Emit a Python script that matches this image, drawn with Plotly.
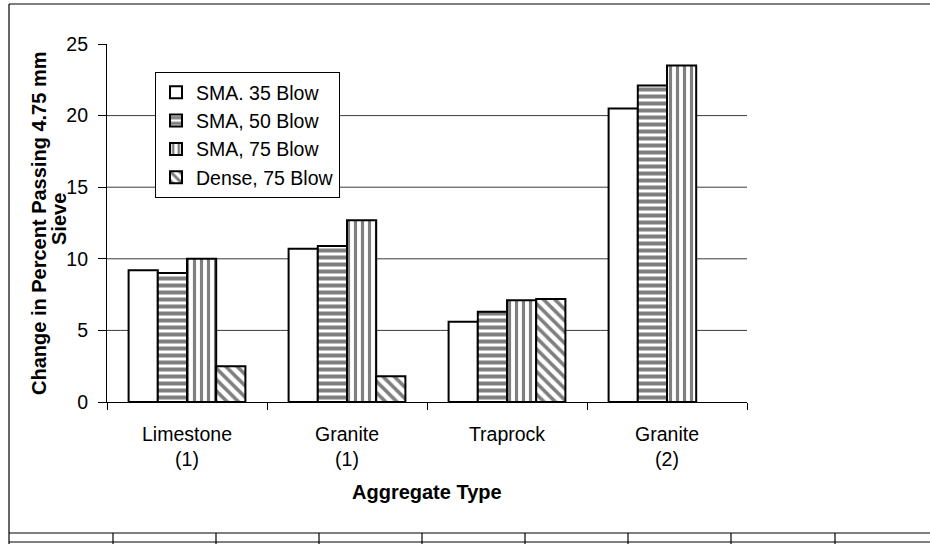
import plotly.graph_objects as go

# ---------------- data ----------------
categories = ["Limestone<br>(1)", "Granite<br>(1)", "Traprock", "Granite<br>(2)"]
series_names = ["SMA. 35 Blow", "SMA, 50 Blow", "SMA, 75 Blow", "Dense, 75 Blow"]
sma35 = [9.2, 10.7, 5.6, 20.5]
sma50 = [9.0, 10.9, 6.3, 22.1]
sma75 = [10.0, 12.7, 7.1, 23.5]
dense75 = [2.5, 1.8, 7.2, None]
y_tick_values = [0, 5, 10, 15, 20, 25]
grid_values = [5, 10, 15, 20]
y_title_line1 = "Change in Percent Passing 4.75 mm"
y_title_line2 = "Sieve"
x_title = "Aggregate Type"

# ---------------- layout geometry ----------------
W, H = 930, 544
L, R, T, B = 107, 747, 44, 402
FONT = "Liberation Sans, Arial, sans-serif"


def px_x(px):
    return (px - L) / (R - L)


def px_y(py):
    return (B - py) / (B - T)


patterns = [
    dict(shape=""),
    dict(shape="-", size=7, solidity=0.57, fgcolor="black", bgcolor="white"),
    dict(shape="|", size=7, solidity=0.45, fgcolor="black", bgcolor="white"),
    dict(shape="\\", size=8, solidity=0.45, fgcolor="black", bgcolor="white"),
]

fig = go.Figure()
for name, vals, pat in zip(series_names, [sma35, sma50, sma75, dense75], patterns):
    fig.add_trace(go.Bar(
        name=name, x=categories, y=vals,
        marker=dict(color="white", line=dict(color="black", width=2), pattern=pat),
    ))

shapes = []
# horizontal gridlines
for g in grid_values:
    shapes.append(dict(type="line", xref="paper", yref="y", x0=0, x1=1, y0=g, y1=g,
                       line=dict(color="#3a3a3a", width=1), layer="below"))

# outer frame (scanned page border)
frame_lines = [
    (9, 4, 930, 4),
    (9, 4, 9, 544),
    (9, 533, 930, 533),
    (9, 542, 930, 542),
]
for xc in [113, 216, 319, 422, 525, 628, 731, 835]:
    frame_lines.append((xc, 533, xc, 544))
for (x0, y0, x1, y1) in frame_lines:
    shapes.append(dict(type="line", xref="paper", yref="paper",
                       x0=px_x(x0), y0=px_y(y0), x1=px_x(x1), y1=px_y(y1),
                       line=dict(color="black", width=1.2)))

annotations = [
    dict(text=f"<b>{y_title_line1}</b>", xref="paper", yref="paper",
         x=px_x(39), y=px_y(224), textangle=-90, showarrow=False,
         xanchor="center", yanchor="middle", font=dict(size=20, family=FONT, color="black")),
    dict(text=f"<b>{y_title_line2}</b>", xref="paper", yref="paper",
         x=px_x(59), y=px_y(219), textangle=-90, showarrow=False,
         xanchor="center", yanchor="middle", font=dict(size=20, family=FONT, color="black")),
    dict(text=f"<b>{x_title}</b>", xref="paper", yref="paper",
         x=0.5, y=px_y(492), showarrow=False,
         xanchor="center", yanchor="middle", font=dict(size=20, family=FONT, color="black")),
]

fig.update_layout(
    width=W, height=H, autosize=False,
    margin=dict(l=L, r=W - R, t=T, b=H - B, pad=0),
    paper_bgcolor="white", plot_bgcolor="white",
    font=dict(family=FONT, size=19.5, color="black"),
    barmode="group", bargap=0.27, bargroupgap=0,
    shapes=shapes, annotations=annotations,
    legend=dict(x=px_x(155), y=px_y(72), xanchor="left", yanchor="top",
                bgcolor="white", bordercolor="black", borderwidth=1,
                font=dict(size=19.5, family=FONT, color="black"),
                tracegroupgap=0, itemwidth=30),
    showlegend=True,
)
fig.update_xaxes(showline=True, linecolor="black", linewidth=1.2,
                 ticks="outside", ticklen=7, tickcolor="black", tickwidth=1.2,
                 tickson="boundaries", showgrid=False, ticklabelstandoff=14,
                 tickfont=dict(size=19.5, family=FONT, color="black"))
fig.update_yaxes(range=[0, 25], tickvals=y_tick_values, showline=True,
                 linecolor="black", linewidth=1.2, ticks="outside", ticklen=8,
                 tickcolor="black", tickwidth=1.2, showgrid=False, zeroline=False,
                 ticklabelstandoff=6,
                 tickfont=dict(size=19.5, family=FONT, color="black"))

fig.write_html("out.html", config={"displayModeBar": False},
               post_script="document.body.style.margin='0px';")
